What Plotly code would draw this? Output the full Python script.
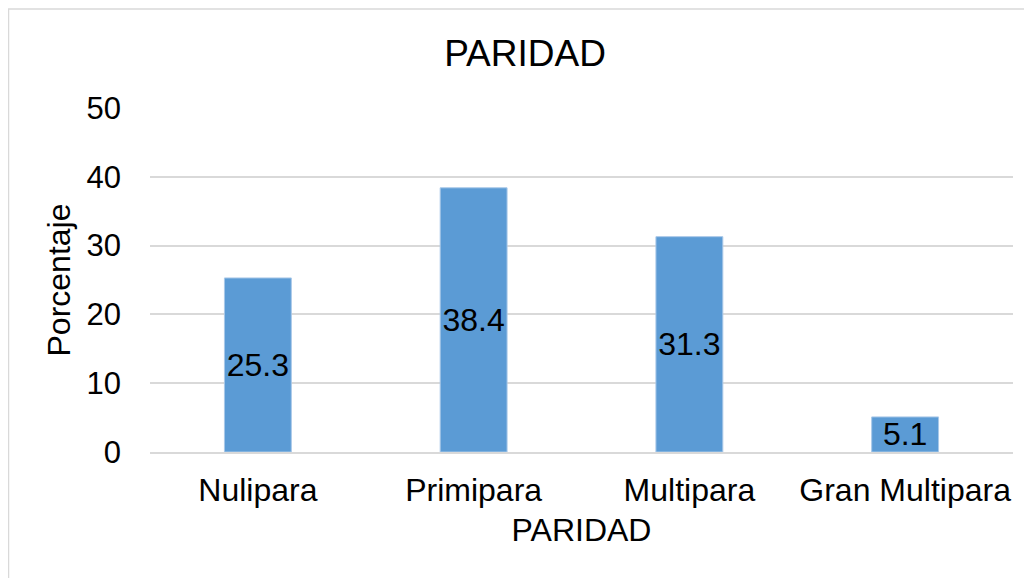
import plotly.graph_objects as go

categories = ["Nulipara", "Primipara", "Multipara", "Gran Multipara"]
percentages = [25.3, 38.4, 31.3, 5.1]
y_ticks = [0, 10, 20, 30, 40, 50]

FONT = "Liberation Sans, Arial, sans-serif"
GRID = "#D9D9D9"

# the page puts the figure 8px in from the top-left corner
W, H = 1024, 570
L, T, R, B = 142, 100, 19, 126
PW, PH = W - L - R, H - T - B

fig = go.Figure(
    go.Bar(
        x=categories,
        y=percentages,
        text=[f"{v:.1f}" for v in percentages],
        textposition="inside",
        textangle=0,
        insidetextanchor="middle",
        constraintext="none",
        textfont=dict(size=32, color="black", family=FONT),
        marker=dict(color="#5B9BD5", line=dict(color="#A9C8E8", width=1)),
        hoverinfo="skip",
    )
)

fig.update_layout(
    width=W,
    height=H,
    margin=dict(l=L, r=R, t=T, b=B),
    paper_bgcolor="white",
    plot_bgcolor="white",
    bargap=0.69,
    showlegend=False,
    font=dict(family=FONT, size=32, color="black"),
    title=dict(
        text="PARIDAD",
        x=517 / W,
        xanchor="center",
        xref="container",
        y=1 - 45 / H,
        yanchor="middle",
        yref="container",
        font=dict(size=37, color="black", family=FONT),
    ),
    shapes=[
        dict(
            type="rect",
            xref="paper",
            yref="paper",
            x0=(0.5 - L) / PW,
            x1=(W + 20 - L) / PW,
            y0=-(B + 30) / PH,
            y1=(PH + T - 1) / PH,
            line=dict(color=GRID, width=1.5),
            fillcolor="rgba(0,0,0,0)",
            layer="below",
        )
    ],
)

fig.update_xaxes(
    showgrid=False,
    showline=True,
    linecolor=GRID,
    linewidth=2,
    ticks="",
    ticklabelstandoff=9,
    tickfont=dict(size=32, color="black"),
    title=dict(text="PARIDAD", standoff=11, font=dict(size=32, color="black")),
)

fig.update_yaxes(
    range=[0, 50],
    tickvals=y_ticks,
    showgrid=True,
    gridcolor=GRID,
    gridwidth=2,
    zeroline=False,
    showline=False,
    ticks="",
    ticklabelstandoff=28,
    tickfont=dict(size=31, color="black"),
    title=dict(text="Porcentaje", standoff=6, font=dict(size=32, color="black")),
)

fig.write_html("out.html")
